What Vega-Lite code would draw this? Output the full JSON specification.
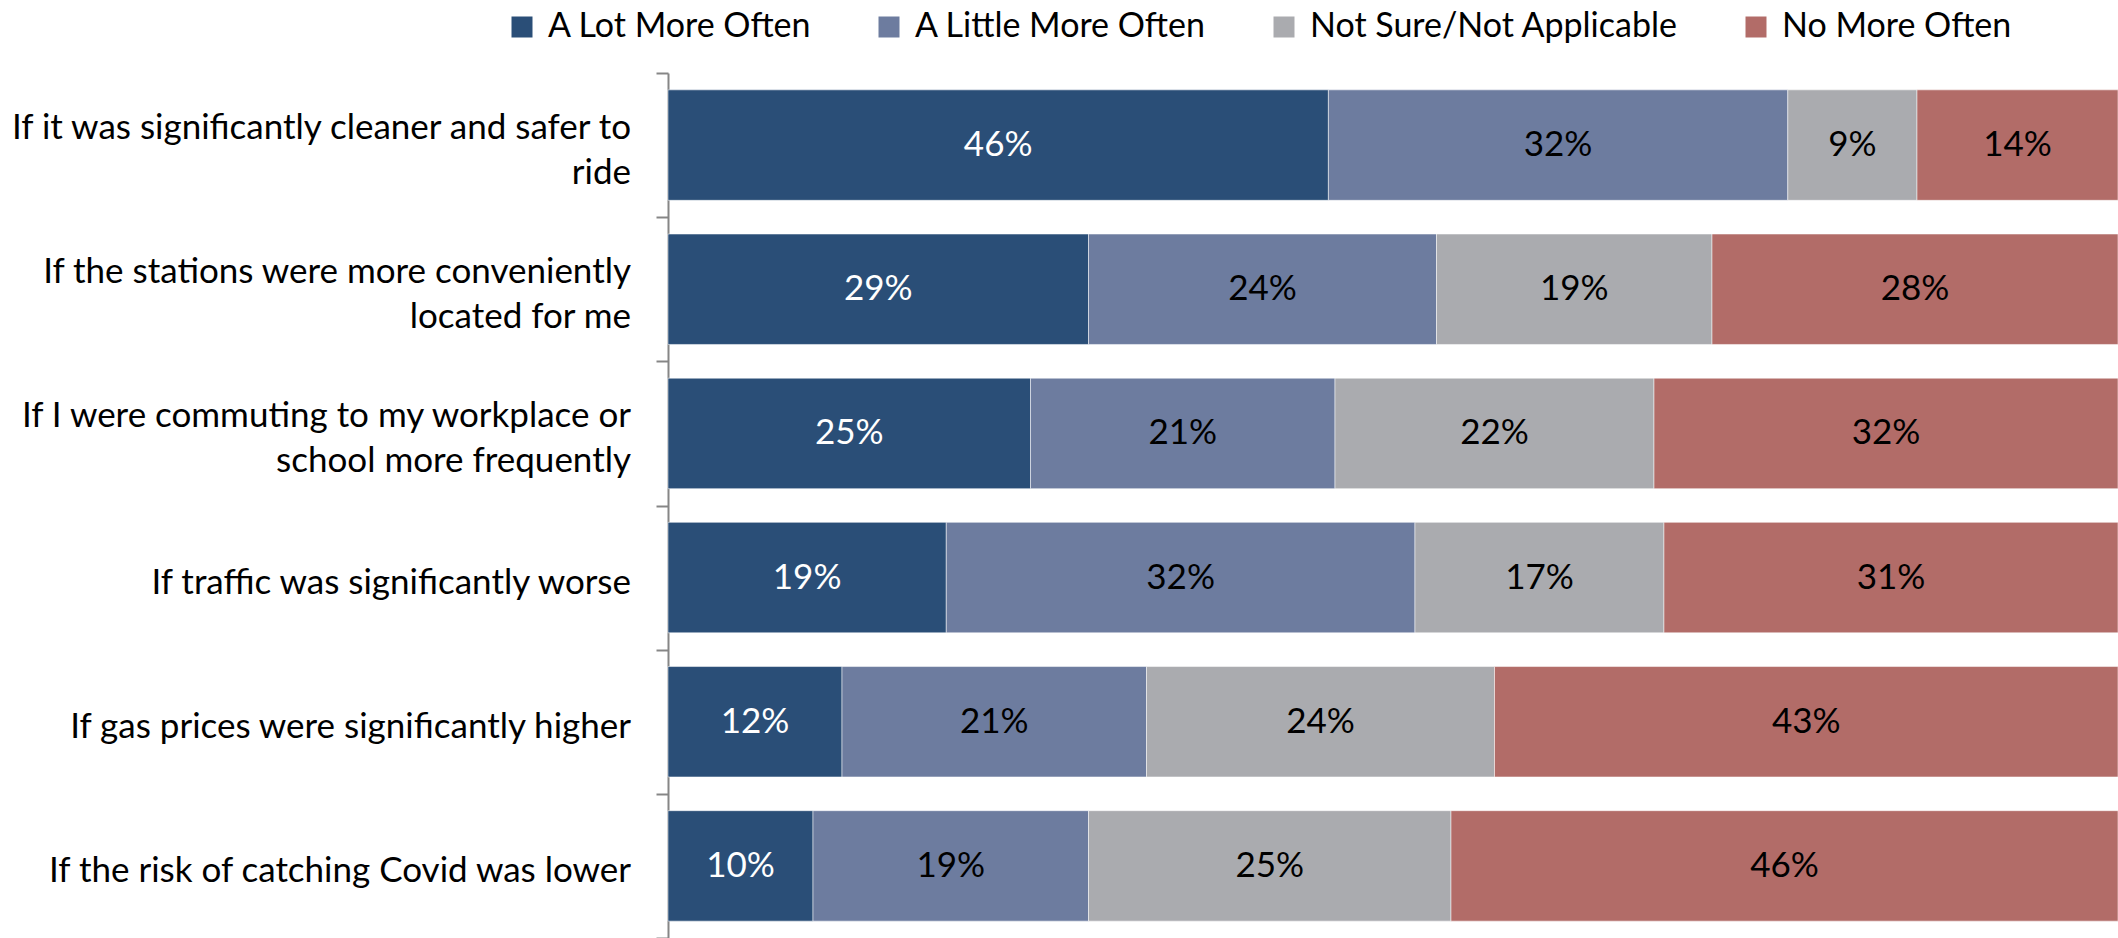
{
  "$schema": "https://vega.github.io/schema/vega-lite/v6.json",
  "width": 1450,
  "height": 865,
  "autosize": {"type": "none"},
  "padding": {"left": 668, "top": 73, "right": 0, "bottom": 0},
  "background": "white",
  "config": {"view": {"stroke": null}, "font": "Lato"},
  "data": {
    "values": [
      {"q": "If it was significantly cleaner and safer to\nride", "r": "A Lot More Often", "o": 1, "v": 0.46},
      {"q": "If it was significantly cleaner and safer to\nride", "r": "A Little More Often", "o": 2, "v": 0.32},
      {"q": "If it was significantly cleaner and safer to\nride", "r": "Not Sure/Not Applicable", "o": 3, "v": 0.09},
      {"q": "If it was significantly cleaner and safer to\nride", "r": "No More Often", "o": 4, "v": 0.14},
      {"q": "If the stations were more conveniently\nlocated for me", "r": "A Lot More Often", "o": 1, "v": 0.29},
      {"q": "If the stations were more conveniently\nlocated for me", "r": "A Little More Often", "o": 2, "v": 0.24},
      {"q": "If the stations were more conveniently\nlocated for me", "r": "Not Sure/Not Applicable", "o": 3, "v": 0.19},
      {"q": "If the stations were more conveniently\nlocated for me", "r": "No More Often", "o": 4, "v": 0.28},
      {"q": "If I were commuting to my workplace or\nschool more frequently", "r": "A Lot More Often", "o": 1, "v": 0.25},
      {"q": "If I were commuting to my workplace or\nschool more frequently", "r": "A Little More Often", "o": 2, "v": 0.21},
      {"q": "If I were commuting to my workplace or\nschool more frequently", "r": "Not Sure/Not Applicable", "o": 3, "v": 0.22},
      {"q": "If I were commuting to my workplace or\nschool more frequently", "r": "No More Often", "o": 4, "v": 0.32},
      {"q": "If traffic was significantly worse", "r": "A Lot More Often", "o": 1, "v": 0.19},
      {"q": "If traffic was significantly worse", "r": "A Little More Often", "o": 2, "v": 0.32},
      {"q": "If traffic was significantly worse", "r": "Not Sure/Not Applicable", "o": 3, "v": 0.17},
      {"q": "If traffic was significantly worse", "r": "No More Often", "o": 4, "v": 0.31},
      {"q": "If gas prices were significantly higher", "r": "A Lot More Often", "o": 1, "v": 0.12},
      {"q": "If gas prices were significantly higher", "r": "A Little More Often", "o": 2, "v": 0.21},
      {"q": "If gas prices were significantly higher", "r": "Not Sure/Not Applicable", "o": 3, "v": 0.24},
      {"q": "If gas prices were significantly higher", "r": "No More Often", "o": 4, "v": 0.43},
      {"q": "If the risk of catching Covid was lower", "r": "A Lot More Often", "o": 1, "v": 0.10},
      {"q": "If the risk of catching Covid was lower", "r": "A Little More Often", "o": 2, "v": 0.19},
      {"q": "If the risk of catching Covid was lower", "r": "Not Sure/Not Applicable", "o": 3, "v": 0.25},
      {"q": "If the risk of catching Covid was lower", "r": "No More Often", "o": 4, "v": 0.46}
    ]
  },
  "encoding": {
    "y": {
      "field": "q",
      "type": "nominal",
      "sort": [
        "If it was significantly cleaner and safer to\nride",
        "If the stations were more conveniently\nlocated for me",
        "If I were commuting to my workplace or\nschool more frequently",
        "If traffic was significantly worse",
        "If gas prices were significantly higher",
        "If the risk of catching Covid was lower"
      ],
      "title": null,
      "scale": {"paddingInner": 0, "paddingOuter": 0},
      "axis": {
        "labels": false,
        "tickSize": 12,
        "tickWidth": 2,
        "tickColor": "#868686",
        "domainColor": "#868686",
        "domainWidth": 2,
        "tickBand": "extent"
      }
    },
    "x": {"field": "v", "type": "quantitative", "stack": "normalize", "axis": null, "scale": {"nice": false}},
    "order": {"field": "o", "type": "quantitative"}
  },
  "layer": [
    {
      "mark": {"type": "bar", "height": {"band": 0.766}, "stroke": "white", "strokeWidth": 1, "strokeOpacity": 0.5},
      "encoding": {
        "color": {
          "field": "r",
          "type": "nominal",
          "sort": ["A Lot More Often", "A Little More Often", "Not Sure/Not Applicable", "No More Often"],
          "scale": {
            "domain": ["A Lot More Often", "A Little More Often", "Not Sure/Not Applicable", "No More Often"],
            "range": ["#2A4E77", "#6D7C9F", "#AAABAF", "#B26C68"]
          },
          "legend": {
            "title": null,
            "orient": "none",
            "direction": "horizontal",
            "legendX": -163,
            "legendY": -63,
            "symbolType": "square",
            "symbolSize": 441,
            "symbolStrokeWidth": 0,
            "labelFont": "Lato",
            "labelFontSize": 34,
            "labelColor": "black",
            "labelLimit": 600,
            "labelOffset": 9,
            "columnPadding": 60
          }
        }
      }
    },
    {
      "mark": {"type": "text", "font": "Lato", "fontSize": 35},
      "encoding": {
        "x": {"field": "v", "type": "quantitative", "stack": "normalize", "bandPosition": 0.5},
        "detail": {"field": "r", "type": "nominal"},
        "text": {"field": "v", "type": "quantitative", "format": ".0%"},
        "color": {"condition": {"test": "datum.r == 'A Lot More Often'", "value": "white"}, "value": "black"}
      }
    },
    {
      "transform": [{"filter": "datum.o == 1 && length(datum.q) <= 45"}],
      "mark": {"type": "text", "font": "Lato", "fontSize": 35, "align": "right", "baseline": "middle", "dx": -37, "dy": 5, "color": "black"},
      "encoding": {
        "x": {"datum": 0, "type": "quantitative"},
        "text": {"field": "q", "type": "nominal"}
      }
    },
    {
      "transform": [{"filter": "datum.o == 1 && length(datum.q) > 45"}],
      "mark": {"type": "text", "font": "Lato", "fontSize": 35, "align": "right", "baseline": "middle", "dx": -37, "dy": -17, "lineBreak": "\n", "lineHeight": 45, "color": "black"},
      "encoding": {
        "x": {"datum": 0, "type": "quantitative"},
        "text": {"field": "q", "type": "nominal"}
      }
    }
  ]
}
